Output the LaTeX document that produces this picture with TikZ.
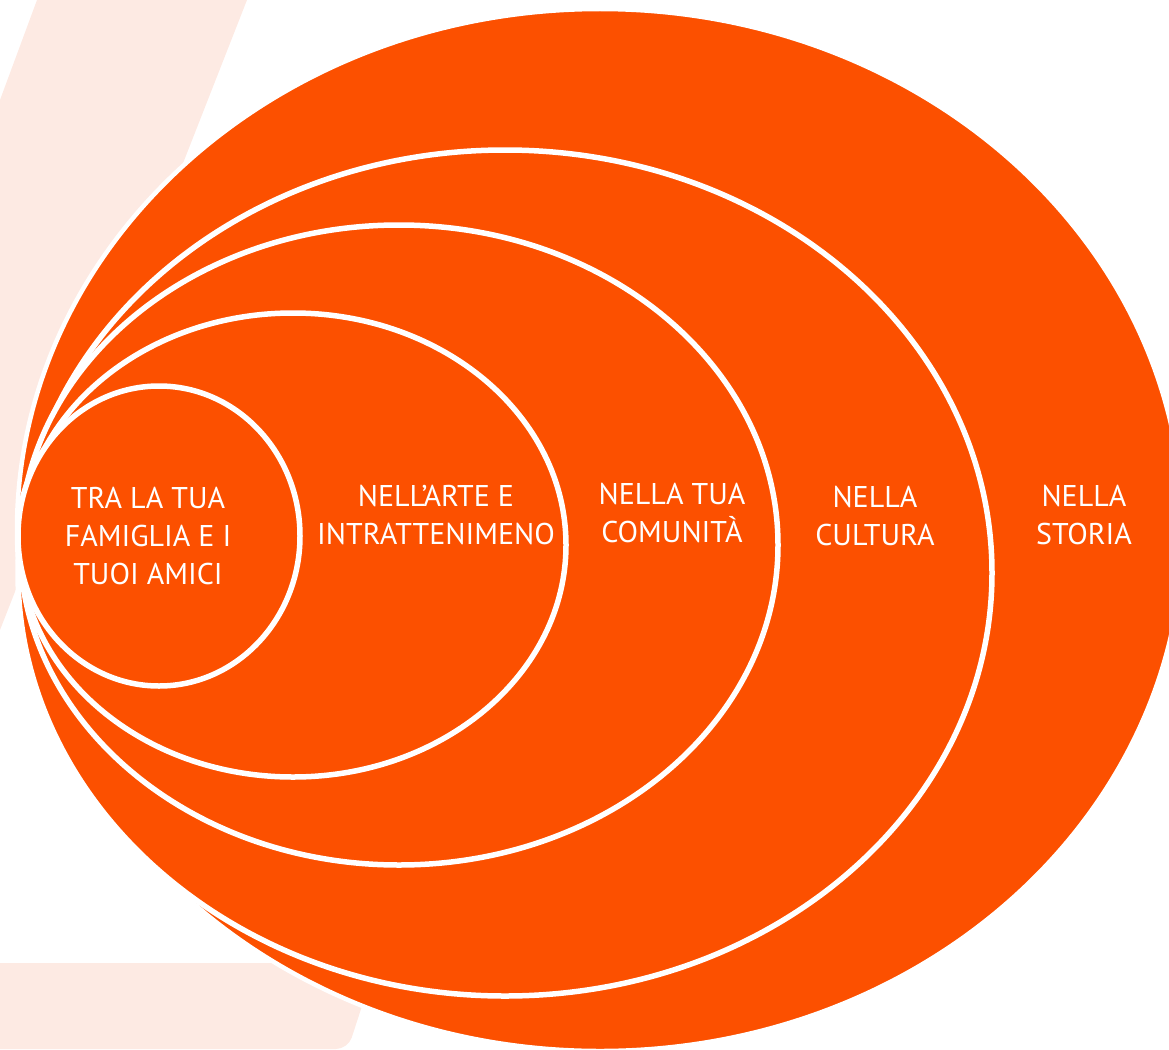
\documentclass[tikz,border=0pt]{standalone}
\usepackage{fontspec}
\setmainfont{PT Sans}
\definecolor{ringorange}{HTML}{FC5000}
\definecolor{peach}{HTML}{FDEAE3}
\tikzset{
  ring/.style = {fill = ringorange, draw = white, line width = 5.5pt},
  lbl/.style = {text = white, align = center, inner sep = 0pt, font = \fontsize{30}{38}\selectfont}
}
\begin{document}
\begin{tikzpicture}[x = 1pt, y = -1pt]
	\useasboundingbox (0,0) rectangle (1169,1049);
	\clip (0,0) rectangle (1169,1049);
	\fill[peach] (37,0)--(247,0)--(0,630)--(0,100)--cycle; %slanted band
	\fill[peach, rounded corners = 12pt] (-20,963)--(376,963)--(348,1049)--(-20,1049)--cycle; %bottom band
	\draw[ring, line width = 4.5pt] (600,530) ellipse [x radius = 583, y radius = 521]; %storia
	\draw[ring] (505,573) ellipse [x radius = 487, y radius = 423]; %cultura
	\draw[ring] (399,545) ellipse [x radius = 379, y radius = 320]; %comunita
	\draw[ring] (293,545) ellipse [x radius = 273, y radius = 232]; %arte
	\draw[ring] (159,536) ellipse [x radius = 141, y radius = 150]; %famiglia
	\node[lbl] (famiglia) at (148,536) {TRA LA TUA\\FAMIGLIA E I\\TUOI AMICI};
	\node[lbl] (arte) at (436,515) {NELL’ARTE E\\INTRATTENIMENO};
	\node[lbl] (comunita) at (672,513) {NELLA TUA\\COMUNITÀ};
	\node[lbl] (cultura) at (875,516) {NELLA\\CULTURA};
	\node[lbl] (storia) at (1084,515) {NELLA\\STORIA};
\end{tikzpicture}
\end{document}
